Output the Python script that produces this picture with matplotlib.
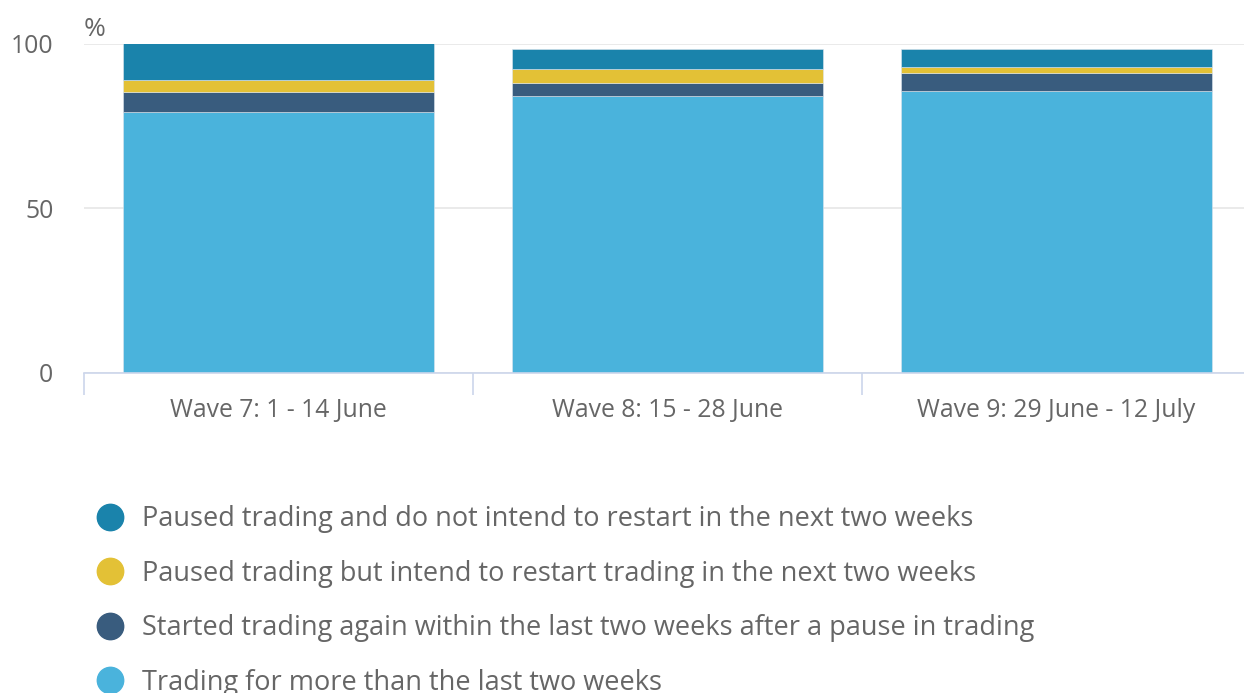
import matplotlib.pyplot as plt
from matplotlib.lines import Line2D
import numpy as np

plt.rcParams['font.family'] = ['Open Sans', 'DejaVu Sans']

waves = ['Wave 7: 1 - 14 June', 'Wave 8: 15 - 28 June', 'Wave 9: 29 June - 12 July']

# stacked from the bottom up
trading_long = [79.3, 84.2, 85.5]
started_again = [6.1, 3.9, 5.4]
paused_restart = [3.5, 4.2, 2.0]
paused_no_restart = [11.1, 6.1, 5.5]

labels = ['Paused trading and do not intend to restart in the next two weeks',
          'Paused trading but intend to restart trading in the next two weeks',
          'Started trading again within the last two weeks after a pause in trading',
          'Trading for more than the last two weeks']
colors = ['#1a83ab', '#e3c136', '#395c7e', '#4ab3dc']

text_color = '#666666'

fig = plt.figure(figsize=(12.44, 6.93), dpi=100)
ax = fig.add_axes([84/1244, 1 - 373/693, 1167/1244, 329.5/693])

x = np.arange(len(waves))
series = [trading_long, started_again, paused_restart, paused_no_restart]
series_colors = colors[::-1]
bottom = np.zeros(len(waves))
for vals, c in zip(series, series_colors):
    ax.bar(x, vals, width=0.8, bottom=bottom, color=c, edgecolor='#dde6ee',
           linewidth=0.4, zorder=3)
    bottom += np.array(vals)

ax.set_xlim(-0.5, 2.5)
ax.set_ylim(0, 100)
ax.set_yticks([0, 50, 100])
ax.yaxis.grid(True, color='#e6e6e6', linewidth=1.2, zorder=0)
ax.tick_params(axis='y', length=0, pad=22, labelsize=17.8, labelcolor=text_color)

ax.set_xticks(x)
ax.set_xticklabels(waves)
ax.tick_params(axis='x', which='major', length=0, pad=18, labelsize=17.8,
               labelcolor=text_color)
ax.set_xticks([-0.5, 0.5, 1.5, 2.5], minor=True)
ax.tick_params(axis='x', which='minor', length=16, width=1.2, color='#ccd6eb')

for s in ['top', 'right', 'left']:
    ax.spines[s].set_visible(False)
ax.spines['bottom'].set_color('#ccd6eb')
ax.spines['bottom'].set_linewidth(1.2)
ax.spines['bottom'].set_zorder(4)

fig.text(84/1244, 1 - 30/693, '%', fontsize=19, color=text_color,
         ha='left', va='center')

handles = [Line2D([], [], marker='o', linestyle='none', markersize=19,
                  markerfacecolor=c, markeredgecolor=c) for c in colors]
fig.legend(handles, labels, loc='upper left', bbox_to_anchor=(96/1244, 1 - 505/693),
           frameon=False, fontsize=19.5, labelcolor=text_color, handlelength=1.0,
           handletextpad=0.68, labelspacing=0.98, borderpad=0, borderaxespad=0)

fig.savefig('out.png', dpi=100)
